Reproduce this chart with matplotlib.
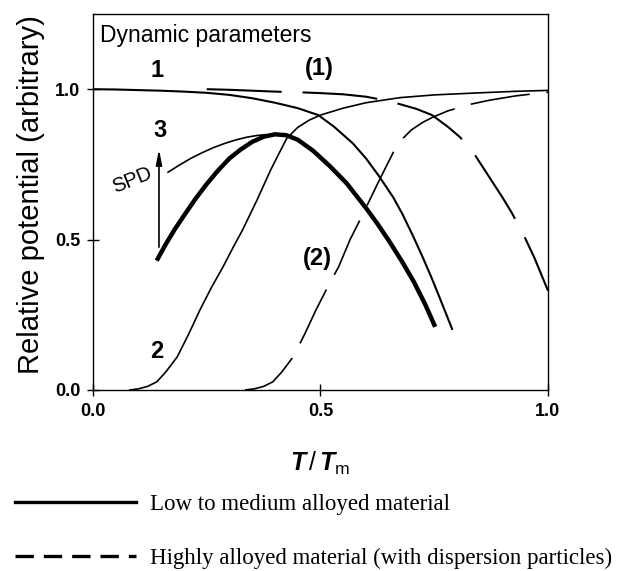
import matplotlib
matplotlib.use("Agg")
import matplotlib.pyplot as plt
from matplotlib.lines import Line2D

# --- data (x = T/Tm, y = relative potential) ---
# curve 1: solid, thin, falling
x1 = [0.0, 0.05, 0.1, 0.15, 0.2, 0.25, 0.3, 0.35, 0.4, 0.45, 0.495, 0.53,
      0.571, 0.6, 0.63, 0.66, 0.68, 0.704, 0.725, 0.745, 0.765, 0.79]
y1 = [1.0, 0.999, 0.997, 0.995, 0.992, 0.988, 0.981, 0.97, 0.955, 0.937, 0.914, 0.875,
      0.82, 0.77, 0.708, 0.64, 0.585, 0.51, 0.44, 0.37, 0.295, 0.2]

# curve (1): dashed, falling
x1d = [0.25, 0.3, 0.35, 0.4, 0.45, 0.5, 0.55, 0.6, 0.642, 0.675, 0.71, 0.745,
       0.78, 0.807, 0.84, 0.87, 0.9, 0.92, 0.945, 0.97, 1.0]
y1d = [1.0, 0.998, 0.995, 0.992, 0.99, 0.987, 0.983, 0.975, 0.963, 0.95, 0.935, 0.914,
       0.875, 0.84, 0.78, 0.71, 0.64, 0.59, 0.52, 0.44, 0.33]

# curve 2: solid, thin, rising
x2 = [0.081, 0.10, 0.12, 0.14, 0.16, 0.185, 0.21, 0.235, 0.26, 0.286, 0.31, 0.328,
      0.36, 0.39, 0.41, 0.426, 0.45, 0.475, 0.50, 0.55, 0.60, 0.675, 0.75, 0.85, 0.93, 1.0]
y2 = [0.0, 0.004, 0.012, 0.027, 0.06, 0.11, 0.185, 0.266, 0.34, 0.41, 0.48, 0.53,
      0.63, 0.73, 0.79, 0.837, 0.873, 0.897, 0.914, 0.937, 0.955, 0.972, 0.981, 0.988, 0.993, 0.996]

# curve (2): dashed, rising
x2d = [0.334, 0.355, 0.375, 0.395, 0.415, 0.44, 0.465, 0.49, 0.515, 0.54, 0.565, 0.59,
       0.63, 0.66, 0.68, 0.70, 0.725, 0.747, 0.78, 0.83, 0.87, 0.93, 1.0]
y2d = [0.0, 0.004, 0.012, 0.027, 0.06, 0.11, 0.185, 0.266, 0.34, 0.41, 0.50, 0.575,
       0.70, 0.79, 0.835, 0.865, 0.89, 0.907, 0.928, 0.95, 0.963, 0.978, 0.99]

# curve 3: thick solid
x3 = [0.14, 0.16, 0.18, 0.2, 0.225, 0.25, 0.275, 0.3, 0.325, 0.35, 0.375, 0.4,
      0.425, 0.45, 0.484, 0.52, 0.557, 0.6, 0.625, 0.653, 0.68, 0.705, 0.73, 0.752]
y3 = [0.43, 0.485, 0.535, 0.58, 0.635, 0.685, 0.73, 0.77, 0.8, 0.825, 0.842, 0.85,
      0.847, 0.832, 0.795, 0.745, 0.688, 0.605, 0.553, 0.49, 0.425, 0.36, 0.285, 0.21]

# curve 3 after SPD: thin branch
xs = [0.165, 0.19, 0.215, 0.24, 0.265, 0.29, 0.315, 0.34, 0.36, 0.38]
ys = [0.724, 0.748, 0.77, 0.789, 0.806, 0.82, 0.832, 0.841, 0.846, 0.849]

# SPD arrow (x, y from -> y to)
spd_x, spd_from, spd_to = 0.145, 0.475, 0.80

ticks = [0.0, 0.5, 1.0]
tick_labels = ["0.0", "0.5", "1.0"]
legend_labels = ["Low to medium alloyed material",
                 "Highly alloyed material (with dispersion particles)"]

plt.rcParams["font.family"] = ["Liberation Sans", "DejaVu Sans"]
plt.rcParams["mathtext.fontset"] = "custom"
plt.rcParams["mathtext.it"] = "Liberation Sans:italic:bold"
plt.rcParams["mathtext.rm"] = "Liberation Sans"

fig = plt.figure(figsize=(6.19, 5.71), dpi=100)
ax = fig.add_axes([93 / 619, 1 - 390 / 571, 455 / 619, 376 / 571])

thin = 1.2
dash = (36, 10)
ax.plot(x1, y1, color="black", lw=1.5, solid_capstyle="butt")
ax.plot(x2, y2, color="black", lw=thin)
ax.plot(x3, y3, color="black", lw=3.2, solid_capstyle="butt")
ax.plot(xs, ys, color="black", lw=thin)
ax.plot(x1d, y1d, color="black", lw=thin + 0.3, dashes=dash)
ax.plot(x2d, y2d, color="black", lw=thin, dashes=dash)

ax.annotate("", xy=(spd_x, spd_to), xytext=(spd_x, spd_from),
            arrowprops=dict(arrowstyle="-|>,head_length=0.9,head_width=0.18",
                            color="black", lw=1.2, shrinkA=0, shrinkB=0))

ax.text(0.015, 1.157, "Dynamic parameters", fontsize=16.5, ha="left", va="baseline")
num_font = dict(fontsize=17, fontweight="bold", ha="center", va="baseline")
ax.text(0.141, 1.041, "1", **num_font)
ax.text(0.497, 1.047, "(1)", **num_font)
ax.text(0.147, 0.842, "3", **num_font)
ax.text(0.141, 0.106, "2", **num_font)
ax.text(0.494, 0.415, "(2)", **num_font)
ax.text(0.086, 0.698, "SPD", fontsize=14.5, ha="center", va="center", rotation=22)

ax.set_xlim(0, 1.0)
ax.set_ylim(0, 1.25)
ax.set_xticks(ticks)
ax.set_xticklabels(tick_labels, fontweight="bold")
ax.set_yticks(ticks)
ax.set_yticklabels(tick_labels, fontweight="bold")
ax.tick_params(direction="inout", length=8, width=1, labelsize=13, pad=5)
for s in ax.spines.values():
    s.set_linewidth(1.0)

ax.set_xlabel(r"$T\,/\,T_{\mathrm{m}}$", fontsize=18, labelpad=22)
ax.set_ylabel("Relative potential (arbitrary)", fontsize=21, va="center")
ax.yaxis.set_label_coords(-0.136, 0.52)

handles = [Line2D([], [], color="black", lw=2.4),
           Line2D([], [], color="black", lw=2.4, dashes=(5.5, 3))]
fig.legend(handles, legend_labels, loc="upper left", bbox_to_anchor=(15 / 619, 1 - 494 / 571),
           frameon=False, prop=dict(family="Liberation Serif", size=16.5),
           handlelength=5.3, handletextpad=0.6, labelspacing=1.42,
           borderpad=0, borderaxespad=0)

fig.savefig("out.png", dpi=100)
